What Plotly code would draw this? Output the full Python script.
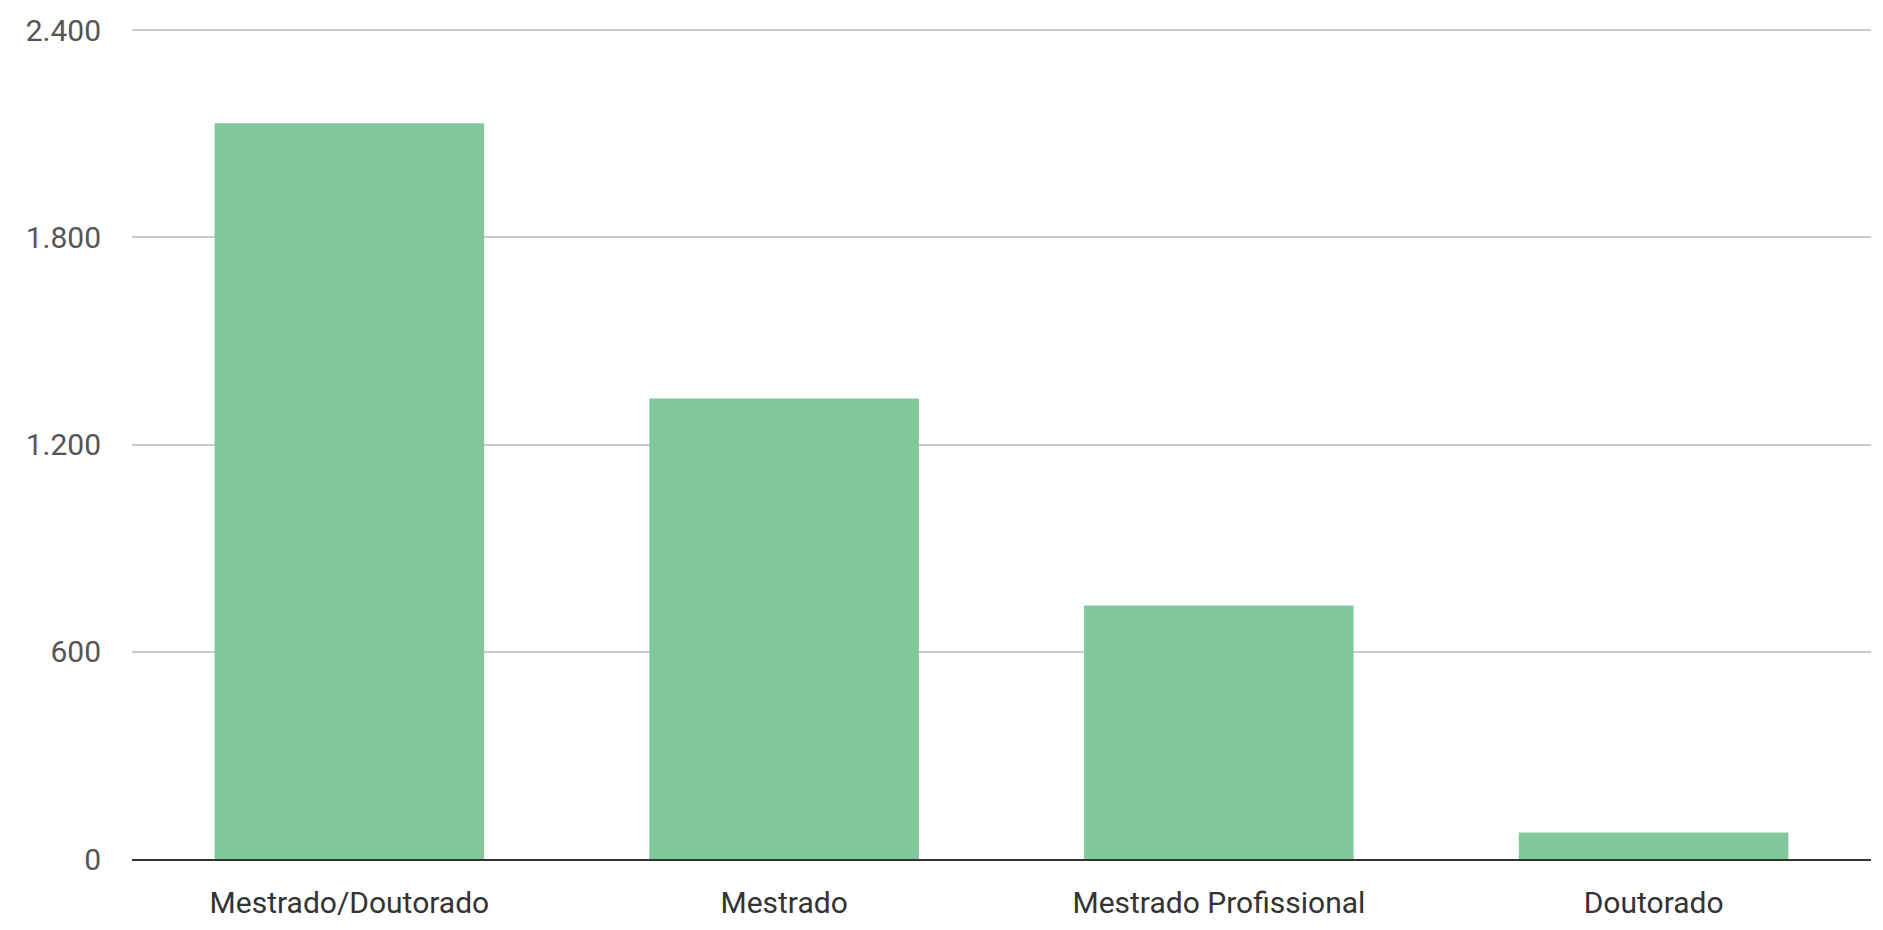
import plotly.graph_objects as go

categories = ["Mestrado/Doutorado", "Mestrado", "Mestrado Profissional", "Doutorado"]
values = [2130, 1333, 734, 77]
y_ticks = [0, 600, 1200, 1800, 2400]

FONT = "Roboto, Arial, sans-serif"

fig = go.Figure(
    go.Bar(x=categories, y=values, marker=dict(color="#81C99B", line=dict(width=0)))
)

# page body has an 8px margin, so the figure is sized/positioned to compensate
fig.update_layout(
    width=1875,
    height=922,
    margin=dict(l=124, r=12, t=18, b=71, autoexpand=False),
    plot_bgcolor="white",
    paper_bgcolor="white",
    bargap=0.38,
    separators=",.",
    showlegend=False,
    font=dict(family=FONT, size=30, color="#444444"),
)
fig.update_xaxes(
    automargin=False,
    showgrid=False,
    showline=True,
    linecolor="#333333",
    linewidth=2,
    ticks="",
    ticklabelstandoff=16,
    tickfont=dict(family=FONT, size=30, color="#333333"),
)
fig.update_yaxes(
    automargin=False,
    range=[0, 2411.6],
    tickvals=y_ticks,
    tickformat=",d",
    showgrid=True,
    gridcolor="#CCCCCC",
    gridwidth=1.5,
    zeroline=False,
    showline=False,
    ticks="",
    ticklabelstandoff=30,
    tickfont=dict(family=FONT, size=30, color="#555555"),
)

fig.write_html("out.html")
